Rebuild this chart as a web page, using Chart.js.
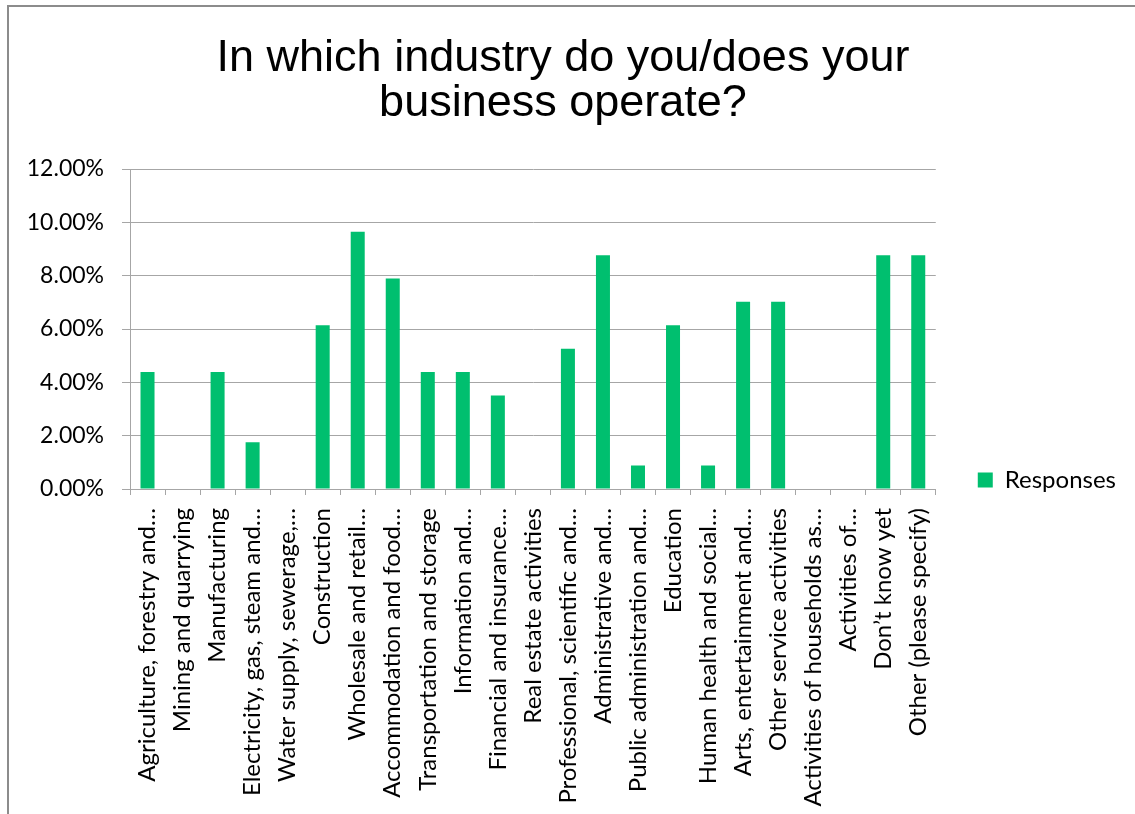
<!DOCTYPE html>
<html>
<head>
<meta charset="utf-8">
<title>Industry of respondents</title>
<script src="https://cdn.jsdelivr.net/npm/chart.js@4.4.1/dist/chart.umd.min.js"></script>
<style>
  html, body { margin: 0; padding: 0; background: #ffffff; }
  #wrap { position: relative; width: 1135px; height: 814px; }
</style>
</head>
<body>
<div id="wrap"><canvas id="chart" width="1135" height="814"></canvas></div>
<script>
// Industry categories (as printed on the axis, long names truncated)
const categories = [
  "Agriculture, forestry and…",
  "Mining and quarrying",
  "Manufacturing",
  "Electricity, gas, steam and…",
  "Water supply, sewerage,…",
  "Construction",
  "Wholesale and retail…",
  "Accommodation and food…",
  "Transportation and storage",
  "Information and…",
  "Financial and insurance…",
  "Real estate activities",
  "Professional, scientific and…",
  "Administrative and…",
  "Public administration and…",
  "Education",
  "Human health and social…",
  "Arts, entertainment and…",
  "Other service activities",
  "Activities of households as…",
  "Activities of…",
  "Don’t know yet",
  "Other (please specify)"
];

// Share of responses per industry, in percent
const responses = [
  4.39, 0, 4.39, 1.75, 0, 6.14, 9.65, 7.89, 4.39, 4.39, 3.51, 0,
  5.26, 8.77, 0.88, 6.14, 0.88, 7.02, 7.02, 0, 0, 8.77, 8.77
];

// Value axis ticks
const yTicks = [0, 2, 4, 6, 8, 10, 12];

const titleLines = ["In which industry do you/does your", "business operate?"];
const seriesName = "Responses";

const labelFont = "Lato, 'DejaVu Sans', sans-serif";

// Thin grey frame along the top and left edges, on a white page
const framePlugin = {
  id: 'frame',
  beforeDraw(chart) {
    const c = chart.ctx;
    c.save();
    c.fillStyle = '#ffffff';
    c.fillRect(0, 0, chart.width, chart.height);
    c.strokeStyle = '#8c8c8c';
    c.lineWidth = 2;
    c.beginPath();
    c.moveTo(8, chart.height);
    c.lineTo(8, 6);
    c.lineTo(chart.width, 6);
    c.stroke();
    c.restore();
  }
};

new Chart(document.getElementById('chart'), {
  type: 'bar',
  data: {
    labels: categories,
    datasets: [{
      label: seriesName,
      data: responses,
      backgroundColor: '#00bf6f',
      borderWidth: 0,
      categoryPercentage: 1.0,
      barPercentage: 0.4
    }]
  },
  options: {
    responsive: false,
    animation: false,
    devicePixelRatio: 1,
    layout: { padding: { left: 0, right: 9, top: 0, bottom: 0 } },
    plugins: {
      title: {
        display: true,
        text: titleLines,
        color: '#000000',
        font: { family: "'Liberation Sans', Arial, sans-serif", size: 45, weight: 'normal', lineHeight: 1.0 },
        padding: { top: 36, bottom: 43 }
      },
      legend: {
        position: 'right',
        // empty title block pushes the single entry down beside the axis
        title: {
          display: true,
          text: ' ',
          font: { size: 12, lineHeight: 1 },
          padding: { top: 134, bottom: 0 }
        },
        labels: {
          boxWidth: 15,
          boxHeight: 15,
          padding: 42,
          color: '#000000',
          font: { family: labelFont, size: 24 }
        }
      },
      tooltip: { enabled: false }
    },
    scales: {
      x: {
        grid: {
          display: true,
          offset: true,
          drawOnChartArea: false,
          drawTicks: true,
          tickLength: 6,
          color: '#a6a6a6'
        },
        border: { display: true, color: '#a6a6a6', width: 1 },
        ticks: {
          autoSkip: false,
          maxRotation: 90,
          minRotation: 90,
          padding: 13,
          color: '#000000',
          font: { family: labelFont, size: 24 }
        },
        afterFit(scale) { scale.height = 325; }
      },
      y: {
        min: 0,
        max: 12,
        afterBuildTicks(scale) { scale.ticks = yTicks.map(v => ({ value: v })); },
        grid: {
          color: '#a6a6a6',
          tickLength: 8,
          lineWidth: 1
        },
        border: { display: true, color: '#a6a6a6', width: 1 },
        ticks: {
          padding: 18,
          color: '#000000',
          font: { family: labelFont, size: 23 },
          callback: v => v.toFixed(2) + '%'
        },
        afterFit(scale) { scale.width = 130; }
      }
    }
  },
  plugins: [framePlugin]
});
</script>
</body>
</html>
